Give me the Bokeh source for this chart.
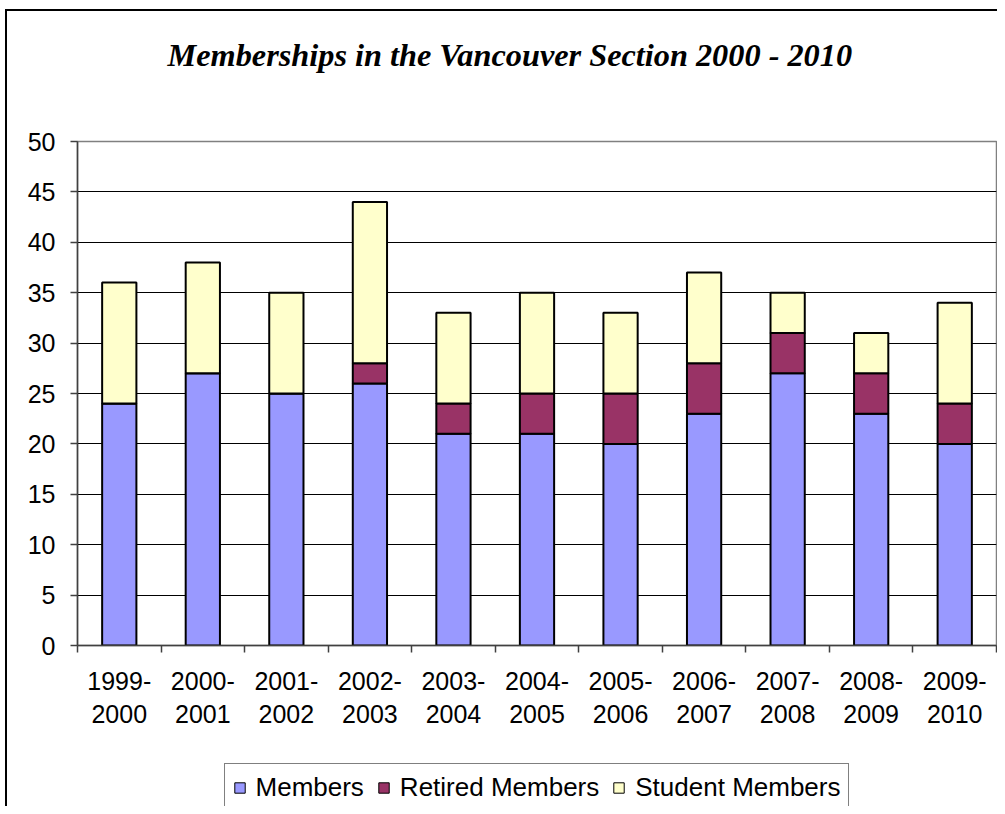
from bokeh.plotting import figure
from bokeh.layouts import column
from bokeh.models import (Range1d, FixedTicker, Legend, LegendItem, ColumnDataSource, Title)
from bokeh.embed import file_html
from bokeh.resources import INLINE

seasons = ["1999-\n2000", "2000-\n2001", "2001-\n2002", "2002-\n2003", "2003-\n2004",
           "2004-\n2005", "2005-\n2006", "2006-\n2007", "2007-\n2008", "2008-\n2009",
           "2009-\n2010"]
members = [24, 27, 25, 26, 21, 21, 20, 23, 27, 23, 20]
retired = [0, 0, 0, 2, 3, 4, 5, 5, 4, 4, 4]
students = [12, 11, 10, 16, 9, 10, 8, 9, 4, 4, 10]
series_names = ["Members", "Retired Members", "Student Members"]
series_colors = ["#9999FF", "#993366", "#FFFFCC"]
y_ticks = list(range(0, 55, 5))

xs = [i + 0.5 for i in range(len(seasons))]
source = ColumnDataSource(dict(x=xs, members=members, retired=retired, students=students))
stack = ["members", "retired", "students"]

FONT = "Liberation Sans"
W = 990

# title strip
tf = figure(width=W, height=110, x_range=Range1d(0, 1), y_range=Range1d(0, 1),
            output_backend="svg", toolbar_location=None, x_axis_type=None, y_axis_type=None,
            min_border=0, min_border_left=70, min_border_right=1)
tf.outline_line_color = None
tf.background_fill_color = "white"
tf.border_fill_color = "white"
tf.title = Title(text="Memberships in the Vancouver Section 2000 - 2010", align="left", offset=90,
                 standoff=50, vertical_align="top", text_font="Liberation Serif",
                 text_font_style="bold italic", text_font_size="32.3px", text_color="black")

# main chart
p = figure(width=W, height=610, x_range=Range1d(0, len(seasons)), y_range=Range1d(0, 50),
           output_backend="svg", toolbar_location=None,
           min_border_left=70, min_border_right=1, min_border_top=20, min_border_bottom=85)
p.background_fill_color = "white"
p.border_fill_color = "white"
p.outline_line_color = "#808080"
p.outline_line_width = 1.5

p.vbar_stack(stack, x="x", width=0.41, fill_color=series_colors, line_color="black",
             line_width=2, source=source)

xa = p.xaxis[0]
xa.ticker = FixedTicker(ticks=xs, minor_ticks=list(range(len(seasons) + 1)))
xa.major_label_overrides = {x: s for x, s in zip(xs, seasons)}
xa.major_tick_in = 0
xa.major_tick_out = 0
xa.minor_tick_in = 0
xa.minor_tick_out = 7
xa.minor_tick_line_color = "#404040"
xa.minor_tick_line_width = 1.5
xa.axis_line_color = "#404040"
xa.axis_line_width = 1.5
xa.major_label_standoff = 14
xa.major_label_text_font = FONT
xa.major_label_text_font_size = "25px"
xa.major_label_text_color = "black"

ya = p.yaxis[0]
ya.ticker = FixedTicker(ticks=y_ticks)
ya.major_tick_in = 0
ya.major_tick_out = 7
ya.major_tick_line_color = "#404040"
ya.major_tick_line_width = 1.5
ya.minor_tick_line_color = None
ya.axis_line_color = "#404040"
ya.axis_line_width = 1.5
ya.major_label_standoff = 15
ya.major_label_text_font = FONT
ya.major_label_text_font_size = "25px"
ya.major_label_text_color = "black"

p.xgrid.visible = False
p.ygrid.ticker = FixedTicker(ticks=y_ticks[1:-1])
p.ygrid.grid_line_color = "black"
p.ygrid.grid_line_width = 1

# legend strip below the chart
lg = figure(width=W, height=75, x_range=Range1d(0, 1), y_range=Range1d(0, 1),
            output_backend="svg", toolbar_location=None, x_axis_type=None, y_axis_type=None,
            min_border=0, min_border_left=70, min_border_right=1)
lg.outline_line_color = None
lg.background_fill_color = "white"
lg.border_fill_color = "white"
leg_renderers = lg.vbar_stack(stack, x="x", width=0.41, fill_color=series_colors,
                              line_color="black", line_width=1, source=source)
for r in leg_renderers:
    r.visible = False

legend = Legend(items=[LegendItem(label=n, renderers=[r]) for n, r in zip(series_names, leg_renderers)],
                orientation="horizontal", location="top_center",
                border_line_color="black", border_line_width=1,
                background_fill_color="white", background_fill_alpha=1,
                label_text_font=FONT, label_text_font_size="26px", label_text_color="black",
                glyph_width=13, glyph_height=13, label_standoff=10, spacing=13,
                padding=8, margin=32)
lg.add_layout(legend, "center")

layout = column(tf, p, lg, spacing=0)
layout.styles = {"border-left": "2px solid black", "border-top": "2px solid black",
                 "margin-left": "5px", "margin-top": "9px"}

open("out.html", "w").write(file_html(layout, INLINE))
